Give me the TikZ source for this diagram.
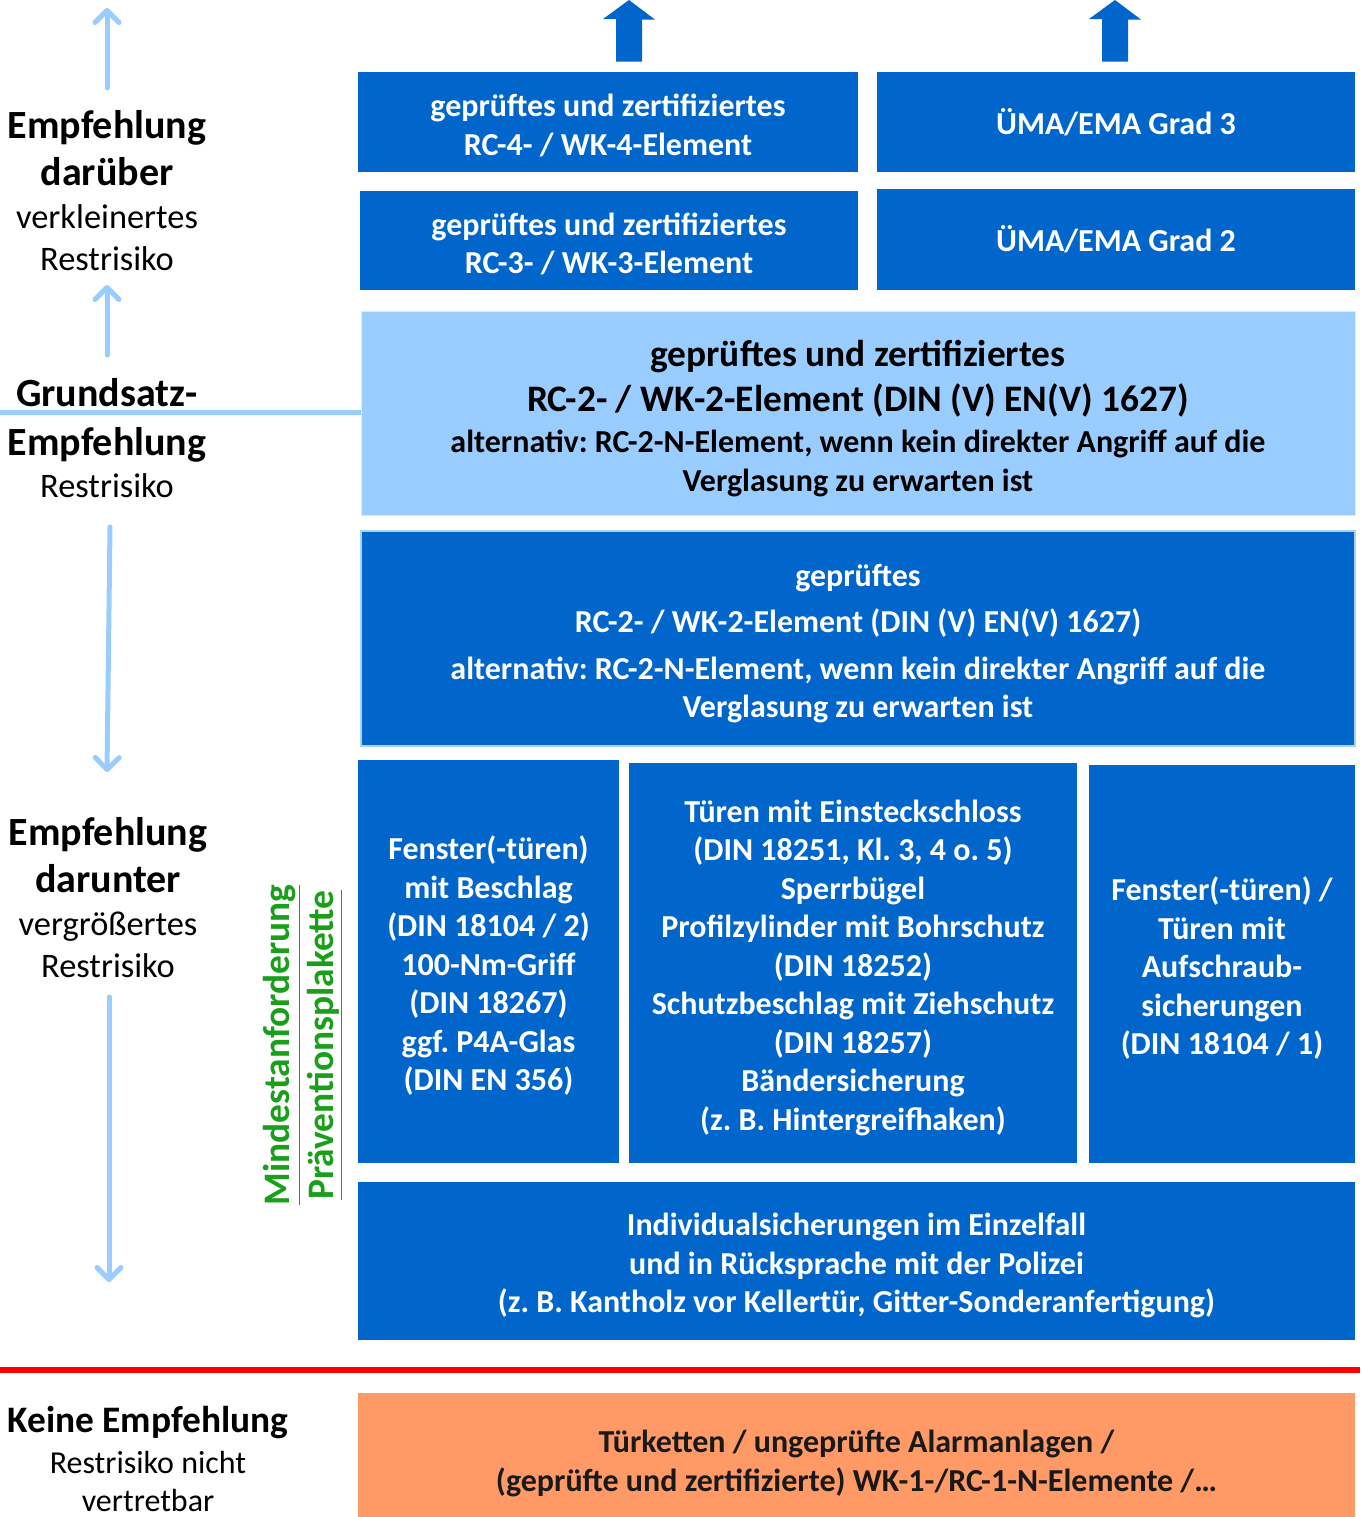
\documentclass[tikz,border=0pt]{standalone}
\usepackage{fontspec}
\setmainfont{Carlito}
\usetikzlibrary{arrows.meta}
\frenchspacing
\definecolor{ublue}{HTML}{0066CC}
\definecolor{hblue}{HTML}{99CCFF}
\definecolor{rand}{HTML}{A9D6E3}
\definecolor{orng}{HTML}{FF9966}
\definecolor{gruen}{HTML}{1A9F1A}
\newcommand\gross{\bfseries\fontsize{18.7}{22.5}\selectfont}
\newcommand\normalgr{\fontsize{16}{19.25}\selectfont}
\newcommand\leicht{\mdseries\fontsize{17.2}{21}\selectfont}

\begin{document}
\begin{tikzpicture}[x=0.5pt, y=-0.5pt, every node/.style={inner sep=0pt, align=center},
  blaubox/.style={fill=ublue, text=white, font=\bfseries\normalgr},
  seite/.style={font=\bfseries\fontsize{20}{23.5}\selectfont},
  pfeil/.style={hblue, line width=2.5pt, line cap=round, -{Straight Barb[length=6pt,width=12pt,round]}},
  blockpfeil/.style={fill=ublue}]
\useasboundingbox (0,0) rectangle (1363,1517);

% obere Reihe
\node[blaubox, minimum width=250pt, minimum height=50pt] (R4) at (608,122) {\rule{0pt}{14.5pt}gepr\"uftes und zertifiziertes\\RC-4- / WK-4-Element};
\node[blaubox, minimum width=239pt, minimum height=50pt] (E3) at (1116,122) {\"UMA/EMA Grad 3};
\node[blaubox, minimum width=249pt, minimum height=49.5pt] (R3) at (609,240.5) {\rule{0pt}{14.5pt}gepr\"uftes und zertifiziertes\\RC-3- / WK-3-Element};
\node[blaubox, minimum width=239pt, minimum height=50.5pt] (E2) at (1116,239.5) {\"UMA/EMA Grad 2};

% Grundsatz
\node[fill=hblue, draw=hblue!40, line width=0.5pt, minimum width=497pt, minimum height=102pt, font=\gross] (Z2) at (858,413)
  {\rule{0pt}{18.5pt}gepr\"uftes und zertifiziertes\\RC-2- / WK-2-Element (DIN (V) EN(V) 1627)\\[-1.75pt]\normalgr alternativ: RC-2-N-Element, wenn kein direkter Angriff auf die\\[-3pt]\normalgr Verglasung zu erwarten ist};
\node[blaubox, draw=rand, line width=0.75pt, minimum width=497pt, minimum height=107.5pt] (G2) at (858,638.5)
  {\rule{0pt}{16pt}gepr\"uftes\\[4pt]RC-2- / WK-2-Element (DIN (V) EN(V) 1627)\\[4pt]alternativ: RC-2-N-Element, wenn kein direkter Angriff auf die\\Verglasung zu erwarten ist};

% Mindestanforderung
\node[blaubox, minimum width=130.5pt, minimum height=201.5pt] (F) at (488.5,961.5)
  {\rule{0pt}{16pt}Fenster(-t\"uren)\\mit Beschlag\\(DIN 18104 / 2)\\100-Nm-Griff\\(DIN 18267)\\ggf. P4A-Glas\\(DIN EN 356)};
\node[blaubox, minimum width=224pt, minimum height=200pt] (T) at (853,963)
  {\rule{0pt}{16pt}T\"uren mit Einsteckschloss\\(DIN 18251, Kl. 3, 4 o. 5)\\Sperrb\"ugel\\Profilzylinder mit Bohrschutz\\(DIN 18252)\\Schutzbeschlag mit Ziehschutz\\(DIN 18257)\\B\"andersicherung\\(z. B. Hintergreifhaken)};
\node[blaubox, minimum width=133pt, minimum height=199pt] (A) at (1222,964)
  {\rule{0pt}{16pt}Fenster(-t\"uren) /\\T\"uren mit\\Aufschraub-\\sicherungen\\(DIN 18104 / 1)};
\node[blaubox, minimum width=498.5pt, minimum height=79pt] (I) at (856.5,1261)
  {\rule{0pt}{16pt}Individualsicherungen im Einzelfall\\und in R\"ucksprache mit der Polizei\\(z. B. Kantholz vor Kellert\"ur, Gitter-Sonderanfertigung)};
\node[fill=orng, text=black!90, font=\bfseries\normalgr, minimum width=498.5pt, minimum height=62pt] (K) at (856.5,1455)
  {\rule{0pt}{19.5pt}T\"urketten / ungepr\"ufte Alarmanlagen /\\(gepr\"ufte und zertifizierte) WK-1-/RC-1-N-Elemente /\dots};

\node[rotate=90, text=gruen, font=\gross] (M) at (282,1045) {\underline{Mindestanforderung}};
\node[rotate=90, text=gruen, font=\gross] (P) at (325,1045) {\underline{Pr\"aventionsplakette}};

% linke Spalte
\node[seite] (L1) at (107,191) {Empfehlung\\dar\"uber\\[-2pt]\leicht verkleinertes\\[-2.5pt]\leicht Restrisiko};
\node[seite] (L2) at (107,438) {Grundsatz-\\[1pt]Empfehlung\\[-2.5pt]\leicht Restrisiko};
\node[seite] (L3) at (108,898) {Empfehlung\\darunter\\[-2pt]\leicht vergr\"o\ss{}ertes\\[-2.5pt]\leicht Restrisiko};
\node[seite, font=\gross] (L4) at (148,1458.5) {Keine Empfehlung\\[-2pt]\mdseries\normalgr Restrisiko nicht\\[-3.5pt]\mdseries\normalgr vertretbar};

\coordinate (p1a) at (107,88);  \coordinate (p1b) at (107,8);
\coordinate (p2a) at (107,355); \coordinate (p2b) at (107,285);
\coordinate (p3a) at (110,527); \coordinate (p3b) at (107,772);
\coordinate (p4a) at (109,997); \coordinate (p4b) at (109,1282);
\draw[pfeil] (p1a) -- (p1b);
\draw[pfeil] (p2a) -- (p2b);
\draw[pfeil] (p3a) -- (p3b);
\draw[pfeil] (p4a) -- (p4b);

\coordinate (l0) at (0,412);
\draw[hblue, line width=2.5pt] (l0) -- (l0 -| Z2.west);
\coordinate (r0) at (0,1370); \coordinate (r1) at (1360,1370);
\draw[red, line width=3pt] (r0) -- (r1);

% Pfeile nach oben
\fill[blockpfeil] (R4.north -| 616,0) ++(0,-10) -- ++(26,0) -- ++(0,-42) -- ++(13,0) -- (629,0) -- (603,19) -- (616,19) -- cycle;
\fill[blockpfeil] (E3.north -| 1102,0) ++(0,-10) -- ++(26,0) -- ++(0,-42) -- ++(13,0) -- (1115,0) -- (1089,19) -- (1102,19) -- cycle;
\end{tikzpicture}
\end{document}
